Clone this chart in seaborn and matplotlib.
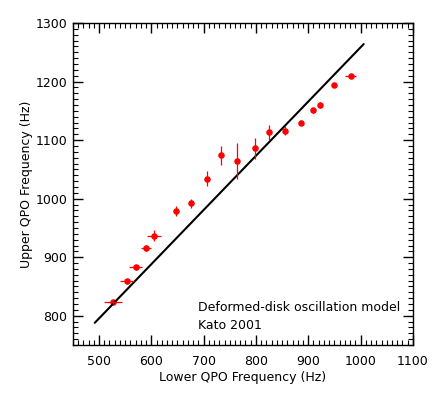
import numpy as np
import pandas as pd
import matplotlib
matplotlib.use("Agg")
import matplotlib.pyplot as plt
import seaborn as sns
from matplotlib.ticker import MultipleLocator

# QPO data
lower_hz = [527, 553, 570, 590, 605, 647, 676, 706, 734, 764, 798, 825, 856, 886, 910, 922, 949, 981]
upper_hz = [823, 859, 883, 916, 937, 979, 992, 1034, 1074, 1064, 1086, 1113, 1116, 1130, 1151, 1160, 1194, 1210]
lower_err = [17, 13, 13, 9, 13, 3, 3, 3, 3, 3, 3, 3, 3, 3, 3, 3, 4, 10]
upper_err = [3, 4, 4, 5, 10, 9, 8, 13, 16, 31, 18, 13, 8, 5, 4, 5, 4, 3]

# model line end points
model_lower = [492, 1006]
model_upper = [788, 1264]

df = pd.DataFrame({"lower": lower_hz, "upper": upper_hz})
model = pd.DataFrame({"lower": model_lower, "upper": model_upper})

sns.set_style("ticks", {"axes.edgecolor": "black", "text.color": "black",
                        "axes.labelcolor": "black", "xtick.color": "black",
                        "ytick.color": "black"})
plt.rcParams["font.family"] = ["DejaVu Sans"]

fig = plt.figure(figsize=(4.36, 3.93), dpi=100)
ax = fig.add_axes([0.167, 0.122, 0.78, 0.8195])

sns.lineplot(data=model, x="lower", y="upper", color="black", linewidth=1.5, ax=ax)
ax.errorbar(lower_hz, upper_hz, xerr=lower_err, yerr=upper_err, fmt="none",
            ecolor="red", elinewidth=0.9, capsize=0)
sns.scatterplot(data=df, x="lower", y="upper", color="red", s=22, linewidth=0, ax=ax)

ax.set_xlim(450, 1100)
ax.set_ylim(750, 1300)
ax.xaxis.set_major_locator(MultipleLocator(100))
ax.xaxis.set_minor_locator(MultipleLocator(10))
ax.yaxis.set_major_locator(MultipleLocator(100))
ax.yaxis.set_minor_locator(MultipleLocator(10))
ax.tick_params(which="both", direction="in", top=True, right=True, labelsize=9, width=1)
ax.tick_params(which="major", length=7)
ax.tick_params(which="minor", length=3.5, width=0.8)
ax.tick_params(axis="x", which="major", pad=7)
ax.tick_params(axis="y", which="major", pad=4)
for s in ax.spines.values():
    s.set_linewidth(1)

ax.set_xlabel("Lower QPO Frequency (Hz)", fontsize=9, labelpad=2)
ax.set_ylabel("Upper QPO Frequency (Hz)", fontsize=9, labelpad=2)

ax.text(0.368, 0.116, "Deformed-disk oscillation model", transform=ax.transAxes,
        fontsize=9, va="center", ha="left")
ax.text(0.368, 0.062, "Kato 2001", transform=ax.transAxes,
        fontsize=9, va="center", ha="left")

fig.savefig("out.png", dpi=100)
